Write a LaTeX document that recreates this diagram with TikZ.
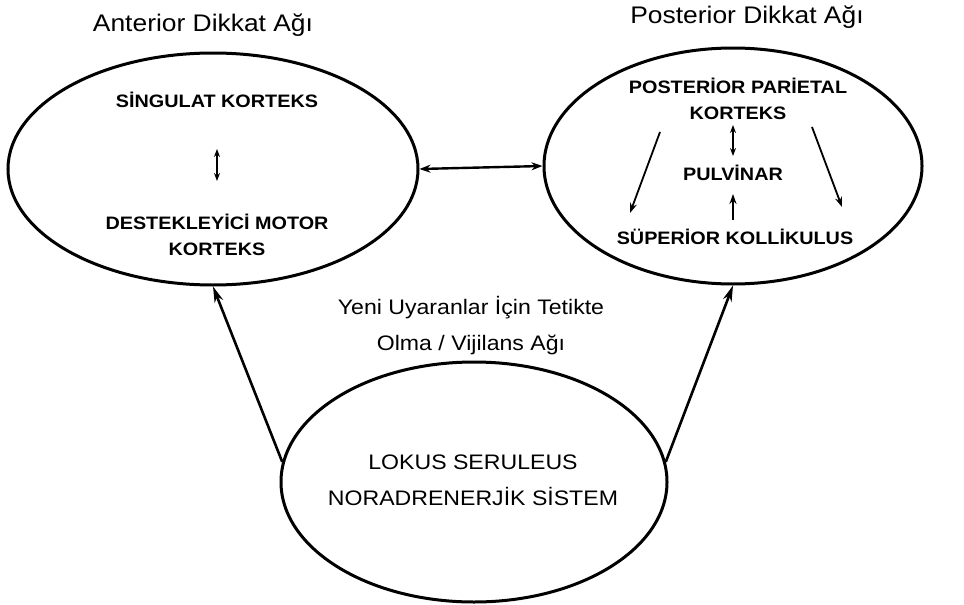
\documentclass[tikz,border=0pt]{standalone}
\usepackage{fontspec}
\setmainfont{Liberation Sans}[FakeStretch=1.1]
\usetikzlibrary{shapes.geometric,arrows.meta}

\begin{document}
\begin{tikzpicture}[x=1pt,y=-1pt,
  region/.style={draw=black, line width=3pt, ellipse, inner sep=0pt},
  heading/.style={font=\fontsize{24}{28}\selectfont, align=center, inner sep=0pt},
  part/.style={font=\fontsize{18}{26}\selectfont\bfseries, align=center, inner sep=1pt},
  core/.style={font=\fontsize{21}{36}\selectfont, align=center, inner sep=0pt},
  bigarrow/.style={line width=2.6pt, -{Stealth[length=16pt,width=9pt]}},
  linkarrow/.style={line width=2.4pt, {Stealth[length=11pt,width=8pt]}-{Stealth[length=11pt,width=8pt]}},
  thinarrow/.style={line width=1.8pt, -{Stealth[length=10pt,width=7pt]}},
  twoway/.style={line width=1.8pt, {Stealth[length=8pt,width=6pt]}-{Stealth[length=8pt,width=6pt]}}
]
\useasboundingbox (0,0) rectangle (964,605);

% the three networks
\node[region, minimum width=410pt, minimum height=232pt] (ant) at (213,169) {};
\node[region, minimum width=378pt, minimum height=236pt] (post) at (733,166) {};
\node[region, minimum width=386pt, minimum height=240pt] (lc) at (474,482) {};

% headings
\node[heading] (antT) at (203,25) {Anterior Dikkat Ağı};
\node[heading] (postT) at (747,17) {Posterior Dikkat Ağı};
\node[core] (vigT) at (471,326) {Yeni Uyaranlar İçin Tetikte\\Olma / Vijilans Ağı};

% anterior network
\node[part] (sing) at (217,100) {SİNGULAT KORTEKS};
\node[part] (sma) at (217,235) {DESTEKLEYİCİ MOTOR\\KORTEKS};
\draw[twoway, shorten <=40pt, shorten >=32pt] (sing) -- (sma);

% posterior network
\node[part] (ppc) at (738,99) {POSTERİOR PARİETAL\\KORTEKS};
\node[part] (pulv) at (733,173) {PULVİNAR};
\node[part] (sc) at (735,237) {SÜPERİOR KOLLİKULUS};
\draw[twoway, shorten <=4pt, shorten >=8pt] (ppc.south -| pulv) -- (pulv);
\draw[thinarrow, shorten <=8pt, shorten >=12pt] (sc.north -| pulv) -- (pulv);

\coordinate (dlA) at (660,132);
\coordinate (dlB) at (630,213);
\coordinate (drA) at (812,127);
\coordinate (drB) at (842,207);
\draw[thinarrow] (dlA) -- (dlB);
\draw[thinarrow] (drA) -- (drB);

% locus coeruleus
\node[core] (lcT) at (473,480) {LOKUS SERULEUS\\NORADRENERJİK SİSTEM};

% connections between networks
\draw[linkarrow] (ant.east) -- (post.west);
\draw[bigarrow] (lc.174) -- (ant.south);
\draw[bigarrow] (lc.6) -- (post.south);
\end{tikzpicture}
\end{document}
